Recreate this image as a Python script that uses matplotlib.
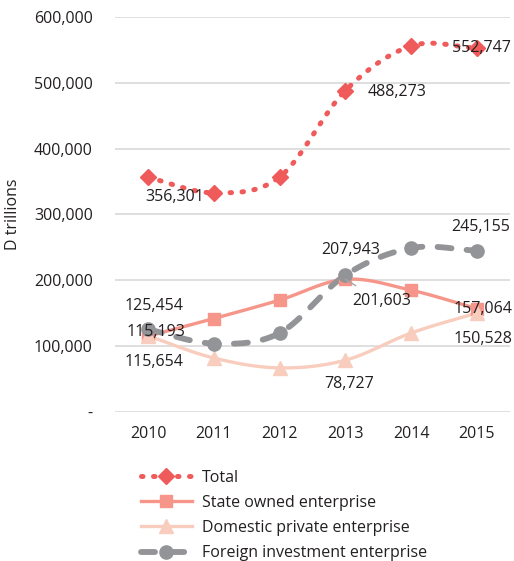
import numpy as np
import matplotlib.pyplot as plt
from matplotlib.lines import Line2D
from matplotlib.ticker import FuncFormatter

plt.rcParams['font.family'] = ['Open Sans', 'DejaVu Sans']

years = ["2010", "2011", "2012", "2013", "2014", "2015"]
total = [356301, 333000, 357000, 488273, 556000, 552747]
state_owned = [115193, 142000, 170000, 201603, 185000, 157064]
domestic_private = [115654, 82000, 67000, 78727, 120000, 150528]
foreign_invest = [125454, 104000, 120000, 207943, 249000, 245155]

C_TOTAL = "#EF5B5B"
C_STATE = "#F6958A"
C_DOMESTIC = "#F9CDBE"
C_FOREIGN = "#929497"
C_TEXT = "#231F20"
FS = 11.5


def smooth(xs, ys, n=24):
    """Catmull-Rom curve through the points (like a 'smoothed line' chart)."""
    p = np.column_stack([xs, ys]).astype(float)
    p = np.vstack([2 * p[0] - p[1], p, 2 * p[-1] - p[-2]])
    out = []
    t = np.linspace(0, 1, n, endpoint=False)[:, None]
    for i in range(1, len(p) - 2):
        p0, p1, p2, p3 = p[i - 1], p[i], p[i + 1], p[i + 2]
        seg = 0.5 * ((2 * p1) + (-p0 + p2) * t
                     + (2 * p0 - 5 * p1 + 4 * p2 - p3) * t ** 2
                     + (-p0 + 3 * p1 - 3 * p2 + p3) * t ** 3)
        out.append(seg)
    out.append(p[-2][None, :])
    out = np.vstack(out)
    return out[:, 0], out[:, 1]


fig = plt.figure(figsize=(5.14, 5.61), dpi=100)
ax = fig.add_axes([0.224, 0.2656, 0.768, 0.7041])

x = np.arange(len(years))

series = [
    (total, C_TOTAL, dict(linestyle=(0, (0.3, 2.1)), lw=3.6, dash_capstyle="round"),
     dict(marker="D", ms=8.5), "Total"),
    (state_owned, C_STATE, dict(linestyle="-", lw=2.4),
     dict(marker="s", ms=8), "State owned enterprise"),
    (domestic_private, C_DOMESTIC, dict(linestyle="-", lw=2.4),
     dict(marker="^", ms=9.5), "Domestic private enterprise"),
    (foreign_invest, C_FOREIGN, dict(linestyle=(0, (2.4, 2.6)), lw=4.2, dash_capstyle="round"),
     dict(marker="o", ms=9.5), "Foreign investment enterprise"),
]

handles = []
for vals, col, lstyle, mstyle, name in series:
    sx, sy = smooth(x, vals)
    ax.plot(sx, sy, color=col, solid_capstyle="round", zorder=3, **lstyle)
    ax.plot(x, vals, linestyle="none", color=col, mec=col, zorder=4, **mstyle)
    handles.append(Line2D([], [], color=col, mec=col, **lstyle, **mstyle))

# value labels: (series, index, offset in points)
label_specs = [
    (total, 0, (19, -14)),
    (total, 3, (37, -1)),
    (total, 5, (3, 0)),
    (foreign_invest, 0, (4, 17)),
    (state_owned, 0, (6, 3)),
    (domestic_private, 0, (4, -19)),
    (foreign_invest, 3, (4, 18)),
    (domestic_private, 3, (3, -17)),
    (foreign_invest, 5, (3, 17)),
    (state_owned, 5, (4, 0)),
    (domestic_private, 5, (4, -19)),
]
for vals, i, off in label_specs:
    ax.annotate(f"{vals[i]:,}", (x[i], vals[i]), xytext=off, textcoords="offset points",
                ha="center", va="center", fontsize=FS, color=C_TEXT, zorder=6,
                annotation_clip=False)

# leader line for the 2013 state owned label
ax.annotate(f"{state_owned[3]:,}", (x[3], state_owned[3]), xytext=(26, -16),
            textcoords="offset points", ha="center", va="center", fontsize=FS,
            color=C_TEXT, zorder=6,
            arrowprops=dict(arrowstyle="-", color="#A6A6A6", lw=1, shrinkA=7, shrinkB=0))

ax.set_xlim(-0.5, 5.5)
ax.set_ylim(0, 600000)
ax.set_yticks(np.arange(0, 600001, 100000))
ax.yaxis.set_major_formatter(FuncFormatter(lambda v, _: "-" if v == 0 else f"{int(v):,}"))
ax.set_xticks(x)
ax.set_xticklabels(years)
ax.tick_params(axis="y", length=0, pad=16, labelsize=FS, labelcolor=C_TEXT)
ax.tick_params(axis="x", length=0, pad=10, labelsize=FS, labelcolor=C_TEXT)
ax.grid(axis="y", color="#D9D9D9", lw=1.2, zorder=0)
ax.set_axisbelow(True)
for s in ax.spines.values():
    s.set_visible(False)

ax.set_ylabel("D trillions", fontsize=FS, color=C_TEXT)
ax.yaxis.set_label_coords(-0.238, 0.5)

fig.legend(handles, [s[4] for s in series], loc="upper left",
           bbox_to_anchor=(0.274, 0.163), frameon=False, fontsize=FS,
           handlelength=3.2, handletextpad=0.6, labelspacing=0.58,
           borderaxespad=0, borderpad=0, labelcolor=C_TEXT, numpoints=1)

fig.savefig("out.png", dpi=100)
